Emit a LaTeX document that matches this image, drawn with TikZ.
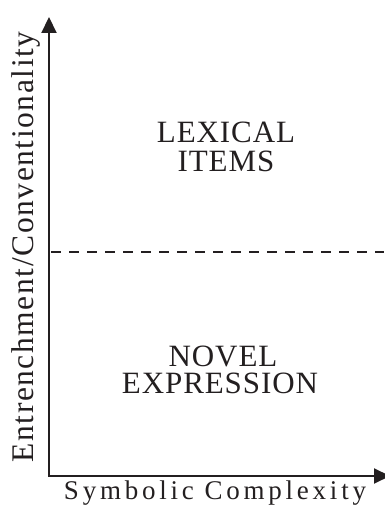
\documentclass[tikz,border=0pt]{standalone}
\usepackage{fontspec}
\setmainfont{Liberation Serif}
\newfontfamily\lsbig[LetterSpace=3]{Liberation Serif}
\newfontfamily\lsx[LetterSpace=14]{Liberation Serif}
\newfontfamily\lsy[LetterSpace=5]{Liberation Serif}
\usetikzlibrary{arrows.meta}
\definecolor{ink}{HTML}{231F20}
\tikzset{
  axisline/.style={draw=ink, line width=2pt, line join=miter,
    {Triangle[length=16pt,width=15pt]}-{Triangle[length=16pt,width=15pt]}},
  divider/.style={draw=ink, line width=1.8pt, dash pattern=on 10pt off 8pt},
  region/.style={text=ink, inner sep=0pt, anchor=base, text height=21pt, text depth=0pt,
    font=\lsbig\fontsize{31}{31}\selectfont},
  xlab/.style={text=ink, inner sep=0pt, anchor=base, font=\lsx\fontsize{27}{27}\selectfont},
  ylab/.style={text=ink, inner sep=0pt, anchor=base, rotate=90, font=\lsy\fontsize{31.5}{31.5}\selectfont}
}
\begin{document}
\begin{tikzpicture}[x=1pt,y=1pt]
\useasboundingbox (0,0) rectangle (384,510);
\coordinate (O) at (49,34);
\coordinate (ytip) at (49,493);
\coordinate (xtip) at (390,34);
\draw[axisline] (ytip) -- (O) -- (xtip);
\coordinate (dl) at (51,258);
\coordinate (dr) at (384,258);
\draw[divider] (dl) -- (dr);
\node[region] (lex1) at (226,367) {LEXICAL};
\node[region] (lex2) at (226,338) {ITEMS};
\node[region] (nov1) at (223,143) {NOVEL};
\node[region] (nov2) at (220,116) {EXPRESSION};
\node[xlab] (xl) at (215,10) {Symbolic Complexity};
\node[ylab] (yl) at (33,263) {Entrenchment/Conventionality};
\end{tikzpicture}
\end{document}
